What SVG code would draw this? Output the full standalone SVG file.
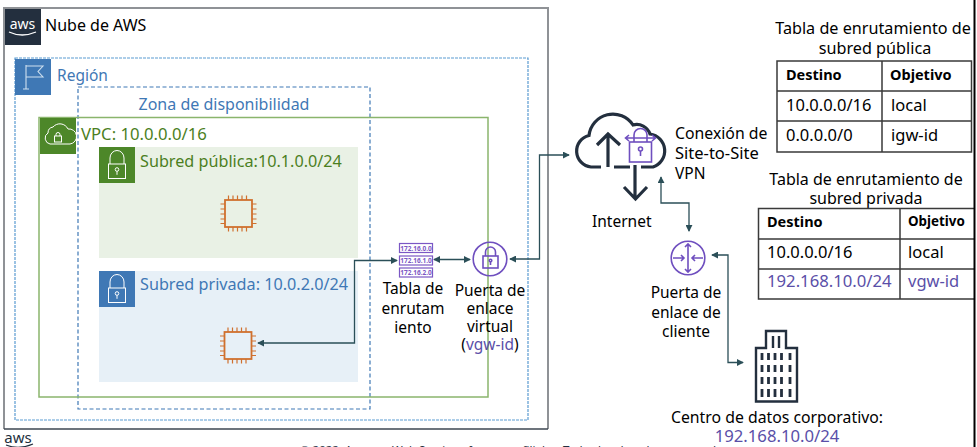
<svg xmlns="http://www.w3.org/2000/svg" width="977" height="447" viewBox="0 0 977 447">
<style>
text{font-family:"Noto Sans","Open Sans","Liberation Sans",sans-serif;font-size:15.5px;fill:#000}
.c{text-anchor:middle}
.blue{fill:#3f78b5}.green{fill:#4c7f1e}.vio{fill:#5a4fa8}
.s{font-size:16.2px}
.v{font-size:16.5px}
.b{font-weight:700;font-size:14.5px}
.conn{fill:none;stroke:#2b4f58;stroke-width:1.300;marker-end:url(#ah);marker-start:url(#as)}
.grid{fill:none;stroke:#3a3a3a;stroke-width:1.500}
.pv{fill:none;stroke:#6f4fbf;stroke-width:1.600}
.dk{fill:none;stroke:#232f3e;stroke-width:3.200}
</style>
<defs>
<marker id="ah" viewBox="0 0 8 8" refX="7" refY="4" markerWidth="7" markerHeight="7" markerUnits="userSpaceOnUse" orient="auto"><path d="M0 0L8 4L0 8Z" fill="#2b4f58"/></marker>
<marker id="as" viewBox="0 0 8 8" refX="1" refY="4" markerWidth="7" markerHeight="7" markerUnits="userSpaceOnUse" orient="auto"><path d="M8 0L0 4L8 8Z" fill="#2b4f58"/></marker>
<g id="lock"><path d="M-7 1v-6a7 7.500 0 0 1 14 0v6" fill="none" stroke="#fff" stroke-width="1"/><rect x="-8.500" y="1" width="17" height="14.500" fill="none" stroke="#fff" stroke-width="1"/><circle cx="0" cy="6.500" r="1.800" fill="none" stroke="#fff"/><path d="M0 8.300v3.500" stroke="#fff"/></g>
<g id="chip" fill="none" stroke="#d0702e"><rect x="0" y="0" width="27" height="27" stroke-width="1.800"/><path stroke-width="1.200" d="M3.500 0v-4.500M8 0v-4.500M12.500 0v-4.500M17 0v-4.500M21.500 0v-4.500M3.500 27v4.500M8 27v4.500M12.500 27v4.500M17 27v4.500M21.500 27v4.500M0 4h-4.500M0 9h-4.500M0 14h-4.500M0 19h-4.500M0 23.500h-4.500M27 4h4.500M27 9h4.500M27 14h4.500M27 19h4.500M27 23.500h4.500"/></g>
</defs>

<rect width="977" height="447" fill="#fff"/>

<g id="aws-cloud">
<path d="M4 429V8H548V429" fill="none" stroke="#8f9296" stroke-width="2"/>
<path d="M4 429H548" stroke="#3c4650" stroke-width="1.500"/>
<rect x="5" y="9" width="36" height="36" fill="#232f3e"/>
<text x="22.500" y="29" class="c" style="fill:#fff;font-size:14px">aws</text>
<path d="M9 32q13 6 27 0" fill="none" stroke="#fff" stroke-width="1.300"/>
<text x="45" y="31" style="font-size:16px">Nube de AWS</text>
</g>

<g id="region">
<rect x="15" y="58" width="513" height="362" fill="none" stroke="#5b9bd1" stroke-width="1.200" stroke-dasharray="3 1"/>
<rect x="15" y="59" width="36" height="36" fill="#3f78b5"/>
<path d="M26 89V65M26 66H43L38 71.500L43 77H26M23 89H29" fill="none" stroke="#cfe0ef" stroke-width="1.100"/>
<text x="57" y="81" class="blue">Región</text>
</g>

<g id="az">
<rect x="78" y="87" width="292" height="322" fill="none" stroke="#3f78b5" stroke-width="1.200" stroke-dasharray="4 2.500"/>
<text x="224" y="110" class="c blue" style="font-size:16px">Zona de disponibilidad</text>
</g>

<g id="vpc">
<rect x="39" y="117.500" width="449" height="279.500" fill="none" stroke="#8ab56c" stroke-width="1.500"/>
<rect x="40" y="118" width="36" height="36" fill="#4d8729"/>
<path d="M50 144a6 6 0 0 1-2-11a6 6 0 0 1 5-6a9 9 0 0 1 15 2a7.500 7.500 0 0 1 2 15Z" fill="none" stroke="#fff" stroke-width="1"/>
<rect x="54.500" y="136" width="7" height="6" fill="none" stroke="#fff"/><path d="M56 136v-1.500a2 2 0 0 1 4 0v1.500" fill="none" stroke="#fff"/>
<text x="81" y="140" class="green" style="font-size:16.700px">VPC: 10.0.0.0/16</text>
</g>

<g id="public-subnet">
<rect x="99" y="147" width="259" height="111" fill="#e9f1e5"/>
<rect x="99" y="147" width="36" height="36" fill="#4d8729"/>
<use href="#lock" x="117" y="163"/>
<text x="140" y="167" class="green s">Subred pública:10.1.0.0/24</text>
<use href="#chip" x="225" y="200"/>
</g>

<g id="private-subnet">
<rect x="99" y="271" width="259" height="111" fill="#e7f0f7"/>
<rect x="99" y="271" width="36" height="36" fill="#3f78b5"/>
<use href="#lock" x="117" y="287"/>
<text x="140" y="290" class="blue s">Subred privada: 10.0.2.0/24</text>
<use href="#chip" x="224.500" y="332"/>
</g>

<g id="connectors">
<path class="conn" d="M258 343H354.500V260.500H397"/>
<path class="conn" d="M434 259.500H470"/>
<path class="conn" d="M510 259H539.500V155H569"/>
<path class="conn" d="M661 177V203H689V231"/>
<path class="conn" d="M712 255H728V362.500H743"/>
</g>

<g id="route-table">
<g fill="none" stroke="#7b57c4" stroke-width="1.200">
<rect x="399.500" y="243.500" width="33" height="9"/><rect x="399.500" y="256" width="33" height="9"/><rect x="399.500" y="268" width="33" height="9"/>
</g>
<text x="416" y="250.500" class="c" style="font-size:6.500px;fill:#7b57c4;font-weight:700">172.16.0.0</text>
<text x="416" y="263" class="c" style="font-size:6.500px;fill:#7b57c4;font-weight:700">172.16.1.0</text>
<text x="416" y="275" class="c" style="font-size:6.500px;fill:#7b57c4;font-weight:700">172.16.2.0</text>
<text x="413" y="294" class="c">Tabla de</text>
<text x="413" y="314" class="c">enrutam</text>
<text x="413" y="333" class="c">iento</text>
</g>

<g id="vgw">
<circle cx="490" cy="259" r="16.800" class="pv"/>
<rect x="483" y="256" width="15" height="12" class="pv"/>
<path d="M485.500 256v-4a5 5 0 0 1 10 0v4" class="pv"/>
<circle cx="490.500" cy="260.500" r="1.300" class="pv"/><path d="M490.500 262v3" class="pv"/>
<text x="490" y="296" class="c">Puerta de</text>
<text x="490" y="314" class="c">enlace</text>
<text x="490" y="332" class="c">virtual</text>
<text x="490" y="350" class="c">(<tspan class="vio">vgw-id</tspan>)</text>
</g>

<g id="vpn">
<path class="dk" d="M601 167H591A16 16 0 0 1 589 135.500A24 24 0 0 1 633 125A14 14 0 0 1 650 134A17 17 0 0 1 653 167H641M630 167H614"/>
<path class="dk" d="M608 167V134M597 145L608 134L620 145M635 165V199M624 187L635.500 199L647 187"/>
<rect x="629.500" y="142" width="22" height="20" class="pv"/>
<path class="pv" d="M634 142V135a6.500 6.500 0 0 1 13 0V142M626 138H655M629 135L625.500 138L629 141M652 135L655.500 138L652 141"/>
<circle cx="640.500" cy="149" r="2" class="pv"/><path class="pv" d="M640.500 151V156"/>
<text x="675" y="139" style="font-size:15.800px">Conexión de</text>
<text x="675" y="159" style="font-size:16.500px">Site-to-Site</text>
<text x="675" y="179">VPN</text>
<text x="592" y="227">Internet</text>
</g>

<g id="cgw">
<circle cx="688" cy="258" r="16.800" class="pv"/>
<path class="pv" d="M688 244V272M685 247L688 244L691 247M685 269L688 272L691 269M673 258H684M681 255L684 258L681 261M703 258H692M695 255L692 258L695 261"/>
<text x="686" y="298" class="c">Puerta de</text>
<text x="686" y="318" class="c">enlace de</text>
<text x="686" y="337" class="c">cliente</text>
</g>

<g id="datacenter">
<path class="dk" style="stroke-width:2.400" d="M756 348H766V331H786V348H797V401.500H756Z"/>
<path d="M773 336V348M779 336V348" stroke="#232f3e" stroke-width="2.400"/>
<path d="M762 353V360M768.500 353V360M775 353V360M781.500 353V360M790 353V360M762 365V372M768.500 365V372M775 365V372M781.500 365V372M790 365V372M762 377V384M768.500 377V384M775 377V384M781.500 377V384M790 377V384M762 389V397M768.500 389V397M775 389V397M781.500 389V397M790 389V397" stroke="#232f3e" stroke-width="2.800"/>
<text x="777" y="423" class="c" style="font-size:15.800px">Centro de datos corporativo:</text>
<text x="777" y="442" class="c vio" style="font-size:16.700px">192.168.10.0/24</text>
</g>

<g id="public-route-table">
<text x="873" y="34" class="c s">Tabla de enrutamiento de</text>
<text x="875" y="54" class="c s">subred pública</text>
<path class="grid" d="M777 61H971.500V152H777ZM777 91H971.500M777 121H971.500M882 61V152"/>
<text x="786" y="80" class="b">Destino</text>
<text x="890" y="80" class="b">Objetivo</text>
<text x="786" y="111" class="v">10.0.0.0/16</text>
<text x="891" y="111" class="v">local</text>
<text x="786" y="141" class="v">0.0.0.0/0</text>
<text x="891" y="141" class="v">igw-id</text>
</g>

<g id="private-route-table">
<text x="866" y="185" class="c" style="font-size:16px">Tabla de enrutamiento de</text>
<text x="866" y="204" class="c" style="font-size:16px">subred privada</text>
<path class="grid" d="M974 208.500H758.500V299H974M758.500 239H974M758.500 269H974M900 208.500V299"/>
<text x="767" y="227" class="b">Destino</text>
<text x="908" y="226" class="b" style="font-size:13.400px">Objetivo</text>
<text x="767" y="258" class="v">10.0.0.0/16</text>
<text x="908" y="258" class="v">local</text>
<text x="767" y="287" class="vio" style="font-size:16.700px">192.168.10.0/24</text>
<text x="908" y="287" class="vio v">vgw-id</text>
</g>

<path id="right-edge" d="M974.500 0V447" stroke="#000" stroke-width="2"/>

<g id="footer">
<text x="18" y="443" class="c" style="fill:#232f3e;font-size:15px">aws</text>
<path d="M6 445q13 5 27 -1" fill="none" stroke="#232f3e" stroke-width="1.200"/>
<text x="300" y="454" style="font-size:11.500px;fill:#232f3e">© 2022, Amazon Web Services, Inc. o sus filiales. Todos los derechos reservados.</text>
</g>
</svg>
